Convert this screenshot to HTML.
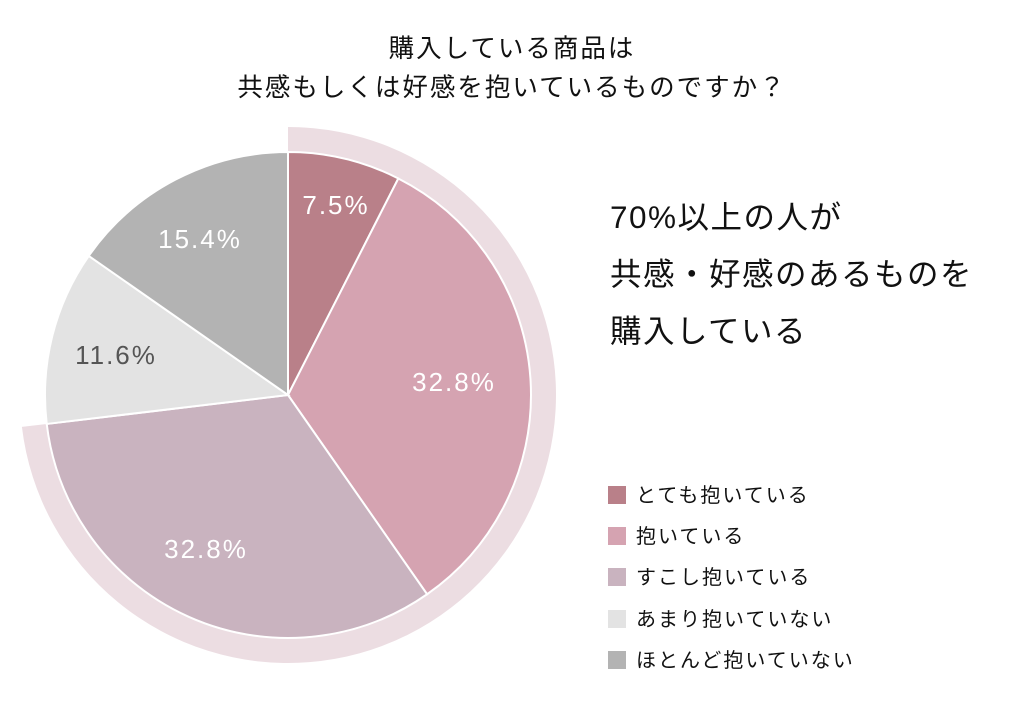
<!DOCTYPE html>
<html><head><meta charset="utf-8"><style>
body{margin:0;background:#fff;}
svg text{font-family:"Liberation Sans","Noto Sans CJK JP",sans-serif;}
</style></head><body>
<svg width="1024" height="702" viewBox="0 0 1024 702" xmlns="http://www.w3.org/2000/svg">
<rect width="1024" height="702" fill="#fff"/>
<text x="512" y="57" font-size="25.5" fill="#111" text-anchor="middle" letter-spacing="2">購入している商品は</text>
<text x="512" y="96" font-size="25.5" fill="#111" text-anchor="middle" letter-spacing="2">共感もしくは好感を抱いているものですか？</text>
<g id="pie"></g>
<g font-size="31.5" fill="#111" letter-spacing="1.5">
<text x="610" y="228">70%以上の人が</text>
<text x="610" y="285">共感・好感のあるものを</text>
<text x="610" y="342">購入している</text>
</g>
<g font-size="20" fill="#111" letter-spacing="2">
<rect x="608" y="486" width="18" height="18" fill="#b98089"/><text x="636" y="502">とても抱いている</text>
<rect x="608" y="527" width="18" height="18" fill="#d5a3b1"/><text x="636" y="543">抱いている</text>
<rect x="608" y="568" width="18" height="18" fill="#c9b3bf"/><text x="636" y="584">すこし抱いている</text>
<rect x="608" y="610" width="18" height="18" fill="#e3e3e3"/><text x="636" y="626">あまり抱いていない</text>
<rect x="608" y="651" width="18" height="18" fill="#b3b3b3"/><text x="636" y="667">ほとんど抱いていない</text>
</g>
</svg>
<script>
(function(){
var cx=288,cy=395,r=243,R=268,g=document.getElementById('pie'),ns='http://www.w3.org/2000/svg';
function pt(a,rr){a=a*Math.PI*2;return [cx+rr*Math.sin(a),cy-rr*Math.cos(a)];}
function add(tag,attrs,txt){var e=document.createElementNS(ns,tag);for(var k in attrs)e.setAttribute(k,attrs[k]);if(txt)e.textContent=txt;g.appendChild(e);return e;}
var e1=0.731,p0=pt(0,R),p1=pt(e1,R),q1=pt(e1,r-2),q0=pt(0,r-2);
add('path',{d:'M'+p0+' A'+R+' '+R+' 0 1 1 '+p1+' L'+q1+' A'+(r-2)+' '+(r-2)+' 0 1 0 '+q0+' Z',fill:'#ecdde2'});
var d=[[.075,'#b98089','7.5%'],[.328,'#d5a3b1','32.8%'],[.328,'#c9b3bf','32.8%'],[.116,'#e3e3e3','11.6%'],[.153,'#b3b3b3','15.4%']];
var a=0;
var lab=[[336,214],[454,391],[206,558],[116,364],[200,248]];
d.forEach(function(s,i){var b=a+s[0];var A=pt(a,r),B=pt(b,r);
add('path',{d:'M'+cx+' '+cy+' L'+A+' A'+r+' '+r+' 0 '+(s[0]>.5?1:0)+' 1 '+B+' Z',fill:s[1],stroke:'#fff','stroke-width':2});
a=b;});
d.forEach(function(s,i){add('text',{x:lab[i][0],y:lab[i][1],'font-size':26,fill:i==3?'#555':'#fff','text-anchor':'middle','letter-spacing':2},s[2]);});
})();
</script>
</body></html>
